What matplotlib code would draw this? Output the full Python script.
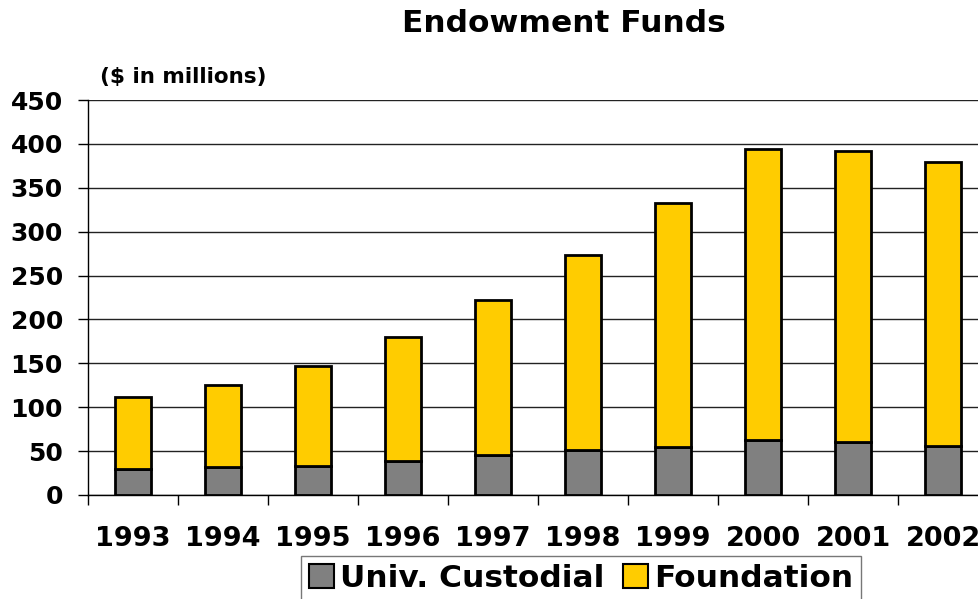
import matplotlib.pyplot as plt
import numpy as np
from matplotlib.patches import Patch

plt.rcParams["font.family"] = ["DejaVu Sans"]
plt.rcParams["font.weight"] = "bold"

years = ["1993", "1994", "1995", "1996", "1997", "1998", "1999", "2000", "2001", "2002"]
custodial = [30, 32, 33, 39, 46, 51, 55, 63, 60, 56]
totals = [112, 125, 147, 180, 222, 273, 333, 394, 392, 379]
foundation = [t - c for t, c in zip(totals, custodial)]

GRAY = "#808080"
GOLD = "#FFCC00"

fig = plt.figure(figsize=(9.79, 5.99), dpi=100)
# plot area runs a little past the right edge of the canvas
ax = fig.add_axes([88 / 979, 1 - 495 / 599, 900 / 979, 395 / 599])

x = np.arange(len(years))
ax.bar(x, custodial, width=0.4, color=GRAY, edgecolor="black", linewidth=2, zorder=3)
ax.bar(x, foundation, width=0.4, bottom=custodial, color=GOLD, edgecolor="black",
       linewidth=2, zorder=3)

ax.set_xlim(-0.5, len(years) - 0.5)
ax.set_ylim(0, 450)
ax.set_yticks(range(0, 451, 50))
ax.tick_params(axis="y", labelsize=18, length=7, width=1, pad=11, direction="out")
ax.yaxis.grid(True, color="#222222", linewidth=1, zorder=0)

# category ticks sit between the bars, labels centred under them
ax.set_xticks(np.arange(len(years)) - 0.5)
ax.set_xticklabels([])
ax.set_xticks(x, minor=True)
ax.set_xticklabels(years, minor=True, fontsize=19.5, fontweight="bold")
ax.tick_params(axis="x", which="major", length=7, width=1, direction="out")
ax.tick_params(axis="x", which="minor", length=0, pad=22)

for lab in ax.get_yticklabels():
    lab.set_fontweight("bold")

ax.spines["top"].set_visible(False)
ax.spines["right"].set_visible(False)
ax.spines["left"].set_linewidth(1)
ax.spines["bottom"].set_linewidth(1)

fig.text(564 / 979, 1 - 23 / 599, "Endowment Funds", ha="center", va="center",
         fontsize=22.5, fontweight="bold")
fig.text(100 / 979, 1 - 77 / 599, "($ in millions)", ha="left", va="center",
         fontsize=15.5, fontweight="bold")

handles = [Patch(facecolor=GRAY, edgecolor="black", linewidth=1.5, label="Univ. Custodial"),
           Patch(facecolor=GOLD, edgecolor="black", linewidth=1.5, label="Foundation")]
leg = fig.legend(handles=handles, loc="upper center", bbox_to_anchor=(581 / 979, 1 - 556 / 599),
                 ncol=2, frameon=True, fancybox=False, edgecolor="#555555",
                 prop={"size": 22.5, "weight": "bold"}, handlelength=0.8, handleheight=0.8,
                 handletextpad=0.2, columnspacing=0.6, borderpad=0.25, borderaxespad=0)
leg.get_frame().set_linewidth(1)

fig.savefig("out.png", dpi=100)
